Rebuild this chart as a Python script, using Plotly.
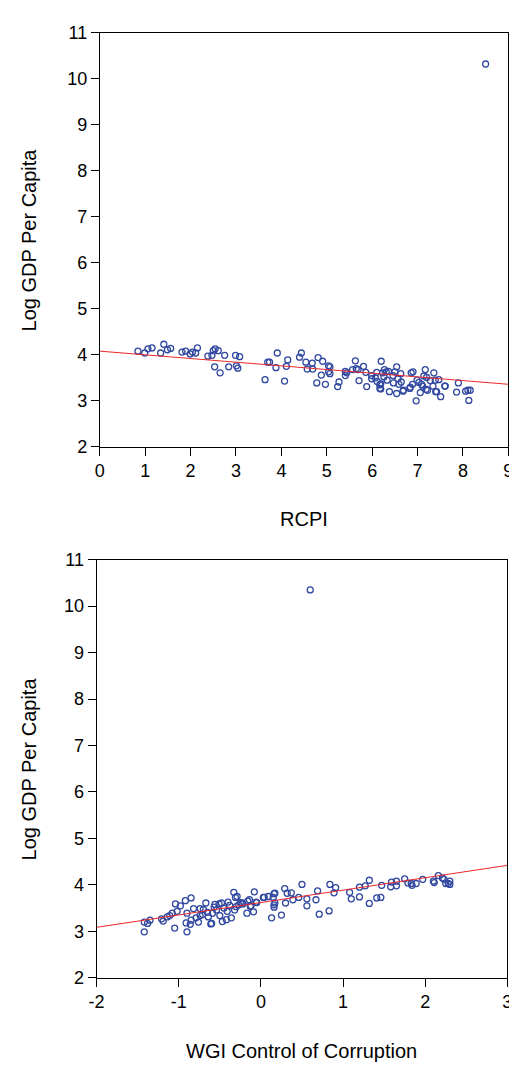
import numpy as np
import plotly.graph_objects as go

W, H = 517, 1074
OFF = 8  # default body margin of the html page

# ---- top panel: RCPI vs log GDP per capita
rcpi = [0.84, 0.99, 1.06, 1.15, 1.34, 1.41, 1.49, 1.56, 1.81, 1.89, 1.99, 2.04, 2.11, 2.15,
        2.38, 2.47, 2.50, 2.54, 2.61, 2.53, 2.65, 2.75, 2.84, 2.99, 3.08, 3.01, 3.04,
        3.64, 3.70, 3.74, 3.88, 3.91, 4.07, 4.11, 4.14, 4.40, 4.44, 4.54, 4.57, 4.68, 4.69,
        4.78, 4.81, 4.88, 4.91, 4.97, 5.04, 5.07, 5.04, 5.07, 5.24, 5.27, 5.41, 5.44, 5.41,
        5.57, 5.63, 5.65, 5.69, 5.71, 5.81, 5.86, 5.88, 5.99, 6.07, 6.10, 6.11, 6.17, 6.17,
        6.20, 6.23, 6.27, 6.26, 6.31, 6.36, 6.33, 6.38, 6.47, 6.50, 6.54, 6.54, 6.57, 6.59,
        6.63, 6.64, 6.68, 6.83, 6.86, 6.90, 6.89, 6.97, 6.99, 7.06, 7.09, 7.14, 7.17, 7.19,
        7.20, 7.11, 7.34, 7.36, 7.39, 7.40, 7.47, 7.51, 7.60, 7.86, 7.90, 8.06, 8.11, 8.16,
        8.13, 6.19, 6.19, 6.84, 7.22, 7.42, 7.61, 6.69, 5.99, 6.46, 7.03, 7.28, 8.50]
lgdp_rcpi = [4.08, 4.04, 4.13, 4.15, 4.04, 4.23, 4.11, 4.14, 4.06, 4.08, 4.02, 4.06, 4.04, 4.15,
             3.97, 3.99, 4.09, 4.13, 4.09, 3.74, 3.61, 3.99, 3.74, 3.99, 3.96, 3.76, 3.71,
             3.46, 3.84, 3.84, 3.72, 4.04, 3.43, 3.75, 3.89, 3.95, 4.04, 3.84, 3.69, 3.82, 3.69,
             3.39, 3.94, 3.56, 3.86, 3.36, 3.76, 3.74, 3.63, 3.59, 3.31, 3.41, 3.64, 3.61, 3.55,
             3.68, 3.87, 3.70, 3.68, 3.44, 3.75, 3.62, 3.31, 3.55, 3.50, 3.62, 3.42, 3.35, 3.27,
             3.86, 3.61, 3.68, 3.52, 3.63, 3.64, 3.45, 3.20, 3.39, 3.63, 3.74, 3.16, 3.48, 3.36,
             3.59, 3.41, 3.21, 3.27, 3.61, 3.63, 3.36, 3.00, 3.45, 3.18, 3.36, 3.54, 3.68, 3.25,
             3.51, 3.32, 3.32, 3.61, 3.45, 3.20, 3.46, 3.09, 3.32, 3.19, 3.39, 3.21, 3.23, 3.23,
             3.01, 3.37, 3.26, 3.30, 3.23, 3.20, 3.32, 3.23, 3.48, 3.55, 3.40, 3.44, 10.32]
fit_rcpi = (4.08, -0.080)   # intercept, slope
rcpi_ticks = [0, 1, 2, 3, 4, 5, 6, 7, 8, 9]

# ---- bottom panel: WGI control of corruption vs log GDP per capita
wgi = [-1.42, -1.42, -1.38, -1.35, -1.21, -1.19, -1.14, -1.11, -1.08, -1.05, -1.04, -1.02,
       -0.98, -0.92, -0.91, -0.90, -0.90, -0.86, -0.85, -0.82, -0.85, -0.79, -0.76, -0.74,
       -0.74, -0.71, -0.67, -0.65, -0.64, -0.61, -0.60, -0.59, -0.56, -0.54, -0.51, -0.50,
       -0.48, -0.47, -0.45, -0.42, -0.40, -0.41, -0.38, -0.36, -0.33, -0.31, -0.32, -0.30,
       -0.27, -0.23, -0.17, -0.16, -0.14, -0.12, -0.09, -0.08, -0.06, 0.03, 0.09, 0.13,
       0.15, 0.16, 0.16, 0.16, 0.25, 0.29, 0.30, 0.32, 0.37, 0.39, 0.46, 0.50, 0.56, 0.56,
       0.67, 0.69, 0.71, 0.83, 0.84, 0.89, 0.91, 1.08, 1.10, 1.20, 1.20, 1.27, 1.32, 1.32,
       1.41, 1.46, 1.47, 1.58, 1.59, 1.65, 1.65, 1.75, 1.79, 1.83, 1.84, 1.89, 1.97, 2.10,
       2.11, 2.16, 2.21, 2.23, 2.25, 2.28, 2.30, 2.30, -0.29, -0.25, -0.22, -0.13, -0.05,
       0.04, 0.17, 0.17, -0.70, -0.57, 0.60]
lgdp_wgi = [2.99, 3.20, 3.17, 3.24, 3.27, 3.22, 3.31, 3.34, 3.39, 3.07, 3.59, 3.43,
            3.55, 3.66, 3.18, 2.99, 3.39, 3.15, 3.72, 3.49, 3.24, 3.29, 3.20, 3.49,
            3.34, 3.36, 3.61, 3.41, 3.31, 3.16, 3.17, 3.39, 3.58, 3.46, 3.59, 3.34,
            3.61, 3.21, 3.50, 3.25, 3.63, 3.43, 3.56, 3.29, 3.84, 3.73, 3.46, 3.53,
            3.57, 3.61, 3.39, 3.65, 3.68, 3.55, 3.42, 3.85, 3.63, 3.73, 3.75, 3.29,
            3.73, 3.57, 3.81, 3.52, 3.35, 3.92, 3.61, 3.82, 3.83, 3.68, 3.73, 4.01, 3.70, 3.55,
            3.68, 3.87, 3.37, 3.44, 4.01, 3.83, 3.94, 3.84, 3.70, 3.95, 3.74, 3.98, 4.10, 3.60,
            3.72, 3.73, 3.99, 3.96, 4.06, 4.08, 3.98, 4.13, 4.04, 4.03, 3.99, 4.03, 4.12, 4.08,
            4.05, 4.20, 4.15, 4.12, 4.03, 4.03, 4.08, 4.01, 3.75, 3.62, 3.59, 3.54, 3.62,
            3.73, 3.82, 3.61, 3.47, 3.52, 10.35]
fit_wgi = (3.62, 0.267)
wgi_ticks = [-2, -1, 0, 1, 2, 3]
y_ticks = [2, 3, 4, 5, 6, 7, 8, 9, 10, 11]

blue = "rgb(48,72,160)"
red = "rgb(238,40,40)"
font = "Liberation Sans, Arial, sans-serif"

fig = go.Figure()

fig.add_trace(go.Scatter(x=rcpi, y=lgdp_rcpi, mode="markers", xaxis="x", yaxis="y",
                         marker=dict(symbol="circle-open", size=6, color=blue,
                                     line=dict(width=1.3, color=blue))))
xl = np.array([0, 9])
fig.add_trace(go.Scatter(x=xl, y=fit_rcpi[0] + fit_rcpi[1] * xl, mode="lines",
                         xaxis="x", yaxis="y", line=dict(color=red, width=1)))

fig.add_trace(go.Scatter(x=wgi, y=lgdp_wgi, mode="markers", xaxis="x2", yaxis="y2",
                         marker=dict(symbol="circle-open", size=6, color=blue,
                                     line=dict(width=1.3, color=blue))))
xl2 = np.array([-2, 3])
fig.add_trace(go.Scatter(x=xl2, y=fit_wgi[0] + fit_wgi[1] * xl2, mode="lines",
                         xaxis="x2", yaxis="y2", line=dict(color=red, width=1)))

ax = dict(showline=True, mirror=True, linecolor="black", linewidth=1, ticks="outside",
          ticklen=8, tickcolor="black", tickwidth=1, showgrid=False, zeroline=False,
          tickfont=dict(family=font, size=18, color="black"), tickmode="array",
          ticklabeloverflow="allow")

def px(x):
    return (x - OFF) / W

def py(y):
    return 1 - (y - OFF) / H

def ticks(vals):
    return dict(tickvals=vals, ticktext=[str(v) for v in vals])

fig.update_layout(
    width=W, height=H, autosize=False, showlegend=False,
    margin=dict(l=0, r=0, t=0, b=0),
    plot_bgcolor="white", paper_bgcolor="white",
    xaxis=dict(ax, **ticks(rcpi_ticks), domain=[px(94), px(513)], range=[0, 9], anchor="y"),
    yaxis=dict(ax, **ticks(y_ticks), domain=[py(445), py(23)], range=[2, 11], anchor="x"),
    xaxis2=dict(ax, **ticks(wgi_ticks), domain=[px(90.7), px(512)], range=[-2, 3], anchor="y2"),
    yaxis2=dict(ax, **ticks(y_ticks), domain=[py(986), py(560)], range=[2, 11], anchor="x2"),
)

titles = [
    ("RCPI", px(303.5), py(519), 0),
    ("Log GDP Per Capita", px(21), py(234), -90),
    ("WGI Control of Corruption", px(301), py(1061), 0),
    ("Log GDP Per Capita", px(21), py(773), -90),
]
for text, x, y, ang in titles:
    fig.add_annotation(text=text, x=x, y=y, xref="paper", yref="paper", showarrow=False,
                       textangle=ang, xanchor="center", yanchor="middle",
                       font=dict(family=font, size=20, color="black"))

fig.write_html("out.html")
